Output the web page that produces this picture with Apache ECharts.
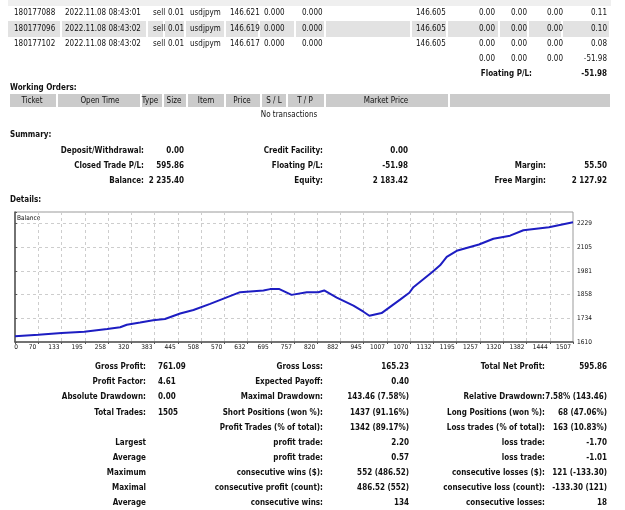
<!DOCTYPE html>
<html>
<head>
<meta charset="utf-8">
<title>Statement</title>
<script src="https://cdn.jsdelivr.net/npm/echarts@6/dist/echarts.min.js"></script>
<style>
  html, body { margin: 0; padding: 0; background: #fff; }
  #main { width: 625px; height: 510px; }
</style>
</head>
<body>
<div id="main"></div>
<script>
// 余额曲线的数据 (交易序号 / 余额)
var tradeNo = [0, 63, 126, 187, 249, 284, 302, 338, 373, 405, 446, 482, 527, 608, 671, 689, 714, 747, 788, 819, 835, 869, 914, 941, 957, 990, 1040, 1065, 1076, 1127, 1148, 1166, 1193, 1253, 1292, 1337, 1373, 1442, 1507];
var balance = [1640, 1648, 1657, 1664, 1678, 1687, 1700, 1712, 1724, 1730, 1759, 1777, 1809, 1870, 1879, 1886, 1886, 1856, 1870, 1870, 1879, 1842, 1800, 1768, 1747, 1761, 1831, 1867, 1896, 1975, 2010, 2054, 2086, 2119, 2149, 2165, 2193, 2209, 2235];

// 坐标轴刻度
var xTickLabels = ['0', '70', '133', '195', '258', '320', '383', '445', '508', '570', '632', '695', '757', '820', '882', '945', '1007', '1070', '1132', '1195', '1257', '1320', '1382', '1444', '1507'];
var yTickLabels = ['1610', '1734', '1858', '1981', '2105', '2229'];

// 持仓表
var openRows = [
    ['180177088', '2022.11.08 08:43:01', 'sell', '0.01', 'usdjpym', '146.621', '0.000', '0.000', '146.605', '0.00', '0.00', '0.00', '0.11'],
    ['180177096', '2022.11.08 08:43:02', 'sell', '0.01', 'usdjpym', '146.619', '0.000', '0.000', '146.605', '0.00', '0.00', '0.00', '0.10'],
    ['180177102', '2022.11.08 08:43:02', 'sell', '0.01', 'usdjpym', '146.617', '0.000', '0.000', '146.605', '0.00', '0.00', '0.00', '0.08']
];
var openTotals = ['0.00', '0.00', '0.00', '-51.98'];
var floatingPL = '-51.98';

var orderHeaders = ['Ticket', 'Open Time', 'Type', 'Size', 'Item', 'Price', 'S / L', 'T / P', 'Market Price'];

var summaryRows = [
    ['Deposit/Withdrawal:', '0.00', 'Credit Facility:', '0.00', '', ''],
    ['Closed Trade P/L:', '595.86', 'Floating P/L:', '-51.98', 'Margin:', '55.50'],
    ['Balance:', '2 235.40', 'Equity:', '2 183.42', 'Free Margin:', '2 127.92']
];

var detailRows = [
    ['Gross Profit:', '761.09', 'Gross Loss:', '165.23', 'Total Net Profit:', '595.86'],
    ['Profit Factor:', '4.61', 'Expected Payoff:', '0.40', '', ''],
    ['Absolute Drawdown:', '0.00', 'Maximal Drawdown:', '143.46 (7.58%)', 'Relative Drawdown:', '7.58% (143.46)'],
    ['Total Trades:', '1505', 'Short Positions (won %):', '1437 (91.16%)', 'Long Positions (won %):', '68 (47.06%)'],
    ['', '', 'Profit Trades (% of total):', '1342 (89.17%)', 'Loss trades (% of total):', '163 (10.83%)'],
    ['Largest', '', 'profit trade:', '2.20', 'loss trade:', '-1.70'],
    ['Average', '', 'profit trade:', '0.57', 'loss trade:', '-1.01'],
    ['Maximum', '', 'consecutive wins ($):', '552 (486.52)', 'consecutive losses ($):', '121 (-133.30)'],
    ['Maximal', '', 'consecutive profit (count):', '486.52 (552)', 'consecutive loss (count):', '-133.30 (121)'],
    ['Average', '', 'consecutive wins:', '134', 'consecutive losses:', '18']
];

var FONT = "'DejaVu Sans Condensed', 'DejaVu Sans', sans-serif";
var reg = '8px ' + FONT;
var bold = 'bold 8px ' + FONT;
var small = '6.5px ' + FONT;

var g = [];
function txt(x, y, s, font, align) {
    if (!s) return;
    g.push({
        type: 'text', silent: true,
        style: { x: x, y: y, text: s, font: font, fill: '#111', textAlign: align || 'left', textVerticalAlign: 'middle' }
    });
}
function box(x, y, w, h, color) {
    g.push({ type: 'rect', silent: true, z: -1, shape: { x: x, y: y, width: w, height: h }, style: { fill: color } });
}

// 顶部被截掉的表头
box(8, 0, 603, 6, '#efefef');

// 持仓行
var colX = [14, 65, 153, 168, 190, 230, 264, 302, 416, 495, 527, 563, 607];
var colAlign = ['left', 'left', 'left', 'left', 'left', 'left', 'left', 'left', 'left', 'right', 'right', 'right', 'right'];
var rowY = [13, 29, 44];
var cellEdges = [8, 62, 148, 165, 186, 226, 260, 296, 326, 412, 448, 500, 529, 563, 611];
for (var c = 0; c < cellEdges.length - 1; c++) {
    box(cellEdges[c], 21, cellEdges[c + 1] - cellEdges[c] - 2, 16, '#e2e2e2');
}
for (var r = 0; r < openRows.length; r++) {
    for (var c = 0; c < openRows[r].length; c++) {
        txt(colX[c], rowY[r], openRows[r][c], reg, colAlign[c]);
    }
}
for (var i = 0; i < openTotals.length; i++) {
    txt(colX[9 + i], 59, openTotals[i], reg, 'right');
}
txt(532, 74, 'Floating P/L:', bold, 'right');
txt(607, 74, floatingPL, bold, 'right');

// Working Orders
txt(10, 88, 'Working Orders:', bold);
var hdrEdges = [10, 58, 142, 164, 188, 226, 262, 288, 326, 450, 612];
for (var c = 0; c < hdrEdges.length - 1; c++) {
    box(hdrEdges[c], 94, hdrEdges[c + 1] - hdrEdges[c] - 2, 13, '#cbcbcb');
}
var hdrX = [32, 100, 150, 174, 206, 242, 274, 305, 386];
for (var i = 0; i < orderHeaders.length; i++) {
    txt(hdrX[i], 100.5, orderHeaders[i], reg, 'center');
}
txt(289, 115, 'No transactions', reg, 'center');

// Summary
txt(10, 135, 'Summary:', bold);
var sumY = [151, 166, 181];
var sumX = [144, 184, 323, 408, 546, 607];
for (var r = 0; r < summaryRows.length; r++) {
    for (var c = 0; c < 6; c++) {
        txt(sumX[c], sumY[r], summaryRows[r][c], bold, 'right');
    }
}

// Details
txt(10, 200, 'Details:', bold);
var detY = [367, 382, 397, 413, 428, 443, 458, 473, 488, 503];
var detX = [146, 158, 323, 409, 545, 607];
var detAlign = ['right', 'left', 'right', 'right', 'right', 'right'];
for (var r = 0; r < detailRows.length; r++) {
    for (var c = 0; c < 6; c++) {
        txt(detX[c], detY[r], detailRows[r][c], bold, detAlign[c]);
    }
}

// 图表内的文字
txt(17, 218, 'Balance', small);
txt(16, 347.5, xTickLabels[0], small, 'center');

var xStep = 1507 / 24;
var yStep = 123.8;

var points = [];
for (var i = 0; i < tradeNo.length; i++) {
    points.push([tradeNo[i], balance[i]]);
}

var myChart = echarts.init(document.getElementById('main'), null, { renderer: 'canvas' });
var gridLine = { show: true, lineStyle: { color: '#cdcdcd', type: [3, 3], width: 1 } };

var option = {
    animation: false,
    grid: {
        show: true, left: 15, top: 212, right: 52, bottom: 168,
        borderColor: '#9a9a9a', borderWidth: 1, backgroundColor: '#fff'
    },
    xAxis: {
        type: 'value', min: 0, max: 1507, interval: xStep,
        axisLine: { show: true, lineStyle: { color: '#555', width: 1.5 } },
        axisTick: { show: true, length: 2, lineStyle: { color: '#555' } },
        axisLabel: {
            margin: 2, align: 'right', padding: [0, 2, 0, 0],
            fontFamily: FONT, fontSize: 6.5, color: '#111',
            formatter: function (v) {
                var k = Math.round(v / xStep);
                return k === 0 ? '' : (xTickLabels[k] || '');
            }
        },
        splitLine: gridLine
    },
    yAxis: {
        type: 'value', position: 'right', min: 1610, max: 2288.5, interval: yStep,
        axisLine: { show: true, lineStyle: { color: '#555', width: 1.5 } },
        axisTick: { show: true, length: 2, lineStyle: { color: '#555' } },
        axisLabel: {
            margin: 4, fontFamily: FONT, fontSize: 6.5, color: '#111',
            formatter: function (v) {
                var k = Math.round((v - 1610) / yStep);
                return Math.abs(v - 1610 - k * yStep) < 1 ? (yTickLabels[k] || '') : '';
            }
        },
        splitLine: gridLine
    },
    graphic: g,
    series: [
        {
            name: 'Balance',
            type: 'line',
            data: points,
            showSymbol: false,
            lineStyle: { color: '#1d1dc2', width: 2 }
        }
    ]
};

myChart.setOption(option);
</script>
</body>
</html>
